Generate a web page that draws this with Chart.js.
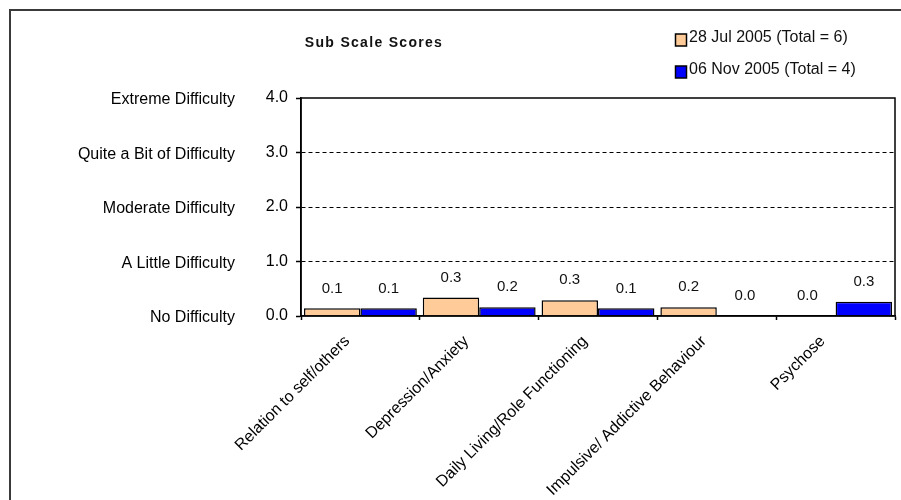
<!DOCTYPE html>
<html>
<head>
<meta charset="utf-8">
<script src="https://cdn.jsdelivr.net/npm/chart.js@4"></script>
<style>
  html, body { margin: 0; padding: 0; background: #fff; }
  canvas { display: block; }
</style>
</head>
<body>
<canvas id="subScale" width="901" height="500"></canvas>
<script>
const categories = ['Relation to self/others', 'Depression/Anxiety', 'Daily Living/Role Functioning', 'Impulsive/ Addictive Behaviour', 'Psychose']
const julValues = [0.14, 0.34, 0.29, 0.16, 0]
const novValues = [0.14, 0.16, 0.14, 0, 0.26]
const seriesNames = ['28 Jul 2005 (Total = 6)', '06 Nov 2005 (Total = 4)']
const scoreLabels = ['No Difficulty', 'A Little Difficulty', 'Moderate Difficulty', 'Quite a Bit of Difficulty', 'Extreme Difficulty']
const chartTitle = 'Sub Scale Scores'

const FONT = "'Liberation Sans', Arial, sans-serif"
Chart.defaults.font.family = FONT
Chart.defaults.color = '#000'

// frame, plot border, title, legend and value labels
const decorations = {
  id: 'decorations',
  beforeDraw(chart) {
    const ctx = chart.ctx
    ctx.save()
    ctx.strokeStyle = '#3a3a3a'
    ctx.lineWidth = 2
    ctx.beginPath()
    ctx.moveTo(10, 500)
    ctx.lineTo(10, 10)
    ctx.lineTo(901, 10)
    ctx.stroke()
    ctx.restore()
  },
  afterDatasetsDraw(chart) {
    const ctx = chart.ctx
    const area = chart.chartArea
    ctx.save()
    ctx.strokeStyle = '#000'
    ctx.lineWidth = 1.5
    ctx.strokeRect(area.left, area.top, area.right - area.left, area.bottom - area.top)

    // value labels
    ctx.font = '15px ' + FONT
    ctx.fillStyle = '#111'
    ctx.textAlign = 'center'
    ctx.textBaseline = 'middle'
    chart.data.datasets.forEach((ds, i) => {
      chart.getDatasetMeta(i).data.forEach((bar, j) => {
        ctx.fillText(ds.data[j].toFixed(1), bar.x, bar.y - 20)
      })
    })

    // title
    ctx.font = 'bold 14px ' + FONT
    ctx.letterSpacing = '1.3px'
    ctx.fillText(chartTitle, 374, 43)
    ctx.letterSpacing = '0px'

    // legend
    ctx.font = '16px ' + FONT
    ctx.textAlign = 'left'
    chart.data.datasets.forEach((ds, i) => {
      const y = 34 + i * 32
      ctx.fillStyle = ds.backgroundColor
      ctx.fillRect(675.5, y, 11, 12)
      ctx.strokeStyle = '#000'
      ctx.lineWidth = 1.5
      ctx.strokeRect(675.5, y, 11, 12)
      ctx.fillStyle = '#111'
      ctx.fillText(ds.label, 689, y + 4)
    })
    ctx.restore()
  }
}

new Chart(document.getElementById('subScale'), {
  type: 'bar',
  data: {
    labels: categories,
    datasets: [
      {
        label: seriesNames[0],
        data: julValues,
        backgroundColor: '#FFCC99',
        borderColor: '#000',
        borderWidth: 1.5,
      },
      {
        label: seriesNames[1],
        data: novValues,
        backgroundColor: '#0000FF',
        borderColor: '#000',
        borderWidth: 1.5,
      },
    ],
  },
  options: {
    responsive: false,
    animation: false,
    events: [],
    categoryPercentage: 0.95,
    barPercentage: 1,
    layout: { padding: { top: 98, right: 6, bottom: 0, left: 0 } },
    plugins: {
      legend: { display: false },
      title: { display: false },
      tooltip: { enabled: false },
    },
    scales: {
      x: {
        grid: { drawOnChartArea: false, tickLength: 4, tickColor: '#000', tickWidth: 1.5 },
        border: { color: '#000', width: 1.5 },
        ticks: {
          font: { size: 16 },
          minRotation: 45,
          maxRotation: 45,
          autoSkip: false,
          padding: 12,
          labelOffset: -13,
        },
        afterFit(scale) { scale.height = 184 },
      },
      y: {
        min: 0,
        max: 4,
        weight: 0,
        grid: {
          color: (c) => (c.tick && c.tick.value > 0 && c.tick.value < 4 ? '#000' : 'rgba(0,0,0,0)'),
          lineWidth: 1,
          tickLength: 5,
          tickColor: '#000',
          tickWidth: 1.5,
        },
        border: { color: '#000', width: 1.5, dash: [4, 3] },
        ticks: {
          stepSize: 1,
          padding: 8,
          font: { size: 16 },
          callback: (v) => v.toFixed(1),
        },
        afterFit(scale) { scale.width = 51 },
      },
      y2: {
        type: 'linear',
        position: 'left',
        min: 0,
        max: 4,
        weight: 1,
        grid: { display: false, drawTicks: false },
        border: { display: false },
        ticks: {
          stepSize: 1,
          padding: 15,
          labelOffset: 2,
          font: { size: 16 },
          callback: (v) => scoreLabels[v],
        },
        afterFit(scale) { scale.width = 250 },
      },
    },
  },
  plugins: [decorations],
})
</script>
</body>
</html>
